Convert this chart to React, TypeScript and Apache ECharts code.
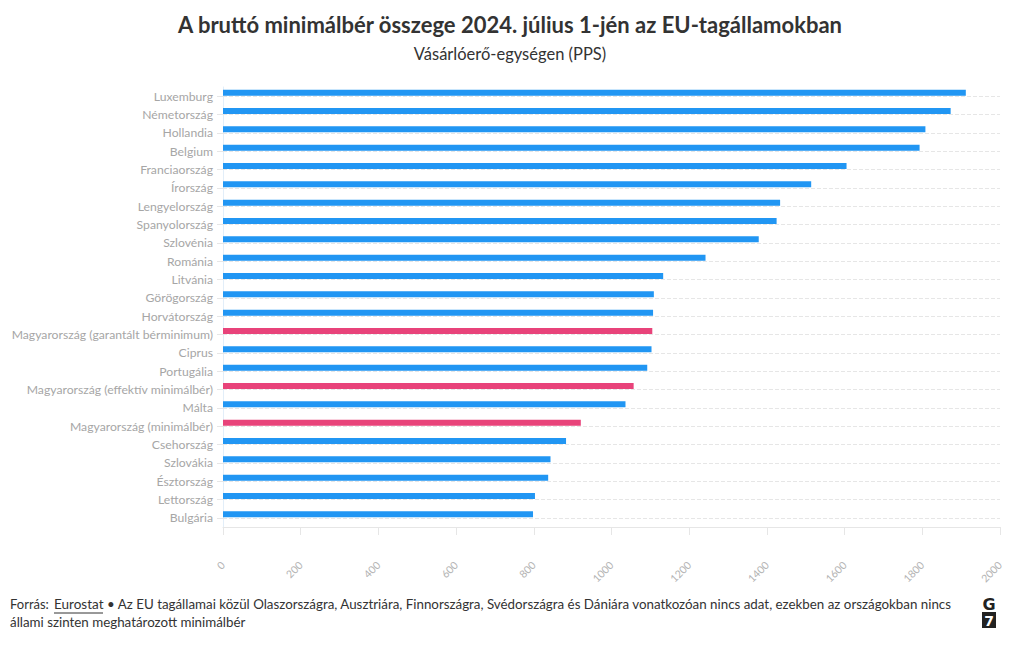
import React, { useEffect, useRef } from "react";
import * as echarts from "echarts";

const categories = [
  "Luxemburg",
  "Németország",
  "Hollandia",
  "Belgium",
  "Franciaország",
  "Írország",
  "Lengyelország",
  "Spanyolország",
  "Szlovénia",
  "Románia",
  "Litvánia",
  "Görögország",
  "Horvátország",
  "Magyarország (garantált bérminimum)",
  "Ciprus",
  "Portugália",
  "Magyarország (effektív minimálbér)",
  "Málta",
  "Magyarország (minimálbér)",
  "Csehország",
  "Szlovákia",
  "Észtország",
  "Lettország",
  "Bulgária",
];

const values = [
  1912, 1873, 1808, 1793, 1605, 1514, 1434, 1425, 1379, 1242, 1133, 1109, 1107,
  1105, 1103, 1092, 1057, 1036, 921, 883, 843, 837, 803, 798,
];

const highlighted = [
  "Magyarország (garantált bérminimum)",
  "Magyarország (effektív minimálbér)",
  "Magyarország (minimálbér)",
];

const xTicks = { min: 0, max: 2000, interval: 200 };

const titleText = "A bruttó minimálbér összege 2024. július 1-jén az EU-tagállamokban";
const subtitleText = "Vásárlóerő-egységen (PPS)";
const sourceLabel = "Forrás: ";
const sourceLink = "Eurostat";
const noteLine1 =
  "• Az EU tagállamai közül Olaszországra, Ausztriára, Finnországra, Svédországra és Dániára vonatkozóan nincs adat, ezekben az országokban nincs";
const noteLine2 = "állami szinten meghatározott minimálbér";

const BLUE = "#2196f3";
const PINK = "#e8437a";
const FONT = "Lato, 'Noto Sans', sans-serif";

export default function App() {
  const ref = useRef<HTMLDivElement>(null);

  useEffect(() => {
    if (!ref.current) return;
    const chart = echarts.init(ref.current, null, { renderer: "svg" });

    const barData = categories.map((c, i) => ({
      value: values[i],
      itemStyle: { color: highlighted.includes(c) ? PINK : BLUE },
    }));

    chart.setOption({
      animation: false,
      textStyle: { fontFamily: FONT },
      title: {
        text: titleText,
        subtext: subtitleText,
        left: "center",
        top: 8,
        itemGap: 10,
        textStyle: {
          fontFamily: FONT,
          fontSize: 22,
          fontWeight: "bold",
          color: "#333333",
        },
        subtextStyle: {
          fontFamily: FONT,
          fontSize: 16.5,
          color: "#333333",
        },
      },
      grid: { left: 223, right: 20, top: 87, height: 440, containLabel: false },
      xAxis: {
        type: "value",
        min: xTicks.min,
        max: xTicks.max,
        interval: xTicks.interval,
        splitLine: { show: false },
        axisLine: { show: true, lineStyle: { color: "#e6e6e6" } },
        axisTick: { show: true, length: 8, lineStyle: { color: "#e6e6e6" } },
        axisLabel: {
          rotate: 45,
          margin: 36,
          color: "#b3b3b3",
          fontSize: 10.5,
          fontFamily: FONT,
          formatter: (v: number) => String(v),
        },
      },
      yAxis: {
        type: "category",
        data: categories,
        inverse: true,
        axisLine: { show: true, lineStyle: { color: "#e2eef9" } },
        axisTick: { show: true, alignWithLabel: true, length: 6, lineStyle: { color: "#e6e6e6" } },
        axisLabel: { color: "#a6a6a6", fontSize: 12.2, margin: 10, fontFamily: FONT },
        splitLine: { show: false },
      },
      series: [
        {
          type: "bar",
          data: barData,
          barWidth: 6,
          barGap: "100%",
          silent: true,
        },
        {
          type: "bar",
          data: categories.map(() => "-"),
          barWidth: 1,
          barGap: "100%",
          silent: true,
        },
        {
          type: "line",
          data: categories.map(() => "-"),
          silent: true,
          symbol: "none",
          z: 1,
          markLine: {
            silent: true,
            symbol: "none",
            label: { show: false },
            lineStyle: { color: "#e6e6e6", type: "dashed", width: 1 },
            data: categories.map((c) => ({ yAxis: c })),
          },
        },
      ],
      graphic: [
        {
          type: "text",
          left: 10,
          top: 597,
          style: { text: sourceLabel, fontSize: 13, fontFamily: FONT, fill: "#333333" },
        },
        {
          type: "text",
          left: 54,
          top: 597,
          style: { text: sourceLink, fontSize: 13.5, fontFamily: FONT, fill: "#333333" },
        },
        {
          type: "line",
          shape: { x1: 54, y1: 613, x2: 103, y2: 613 },
          style: { stroke: "#333333", lineWidth: 1 },
        },
        {
          type: "text",
          left: 107,
          top: 597,
          style: { text: noteLine1, fontSize: 13.35, fontFamily: FONT, fill: "#333333" },
        },
        {
          type: "text",
          left: 10,
          top: 615,
          style: { text: noteLine2, fontSize: 13.35, fontFamily: FONT, fill: "#333333" },
        },
        {
          type: "text",
          x: 989,
          y: 604,
          style: {
            text: "G",
            fontSize: 16,
            fontWeight: "bold",
            fontFamily: "'DejaVu Sans', sans-serif",
            fill: "#222222",
            align: "center",
            verticalAlign: "middle",
          },
        },
        {
          type: "rect",
          shape: { x: 982, y: 612, width: 14, height: 16 },
          style: { fill: "#222222" },
        },
        {
          type: "text",
          x: 989,
          y: 620.5,
          style: {
            text: "7",
            fontSize: 14,
            fontWeight: "bold",
            fontFamily: "'DejaVu Sans', sans-serif",
            fill: "#ffffff",
            align: "center",
            verticalAlign: "middle",
          },
        },
      ],
    });

    return () => chart.dispose();
  }, []);

  return <div ref={ref} style={{ width: 1020, height: 648, margin: -8 }} />;
}
